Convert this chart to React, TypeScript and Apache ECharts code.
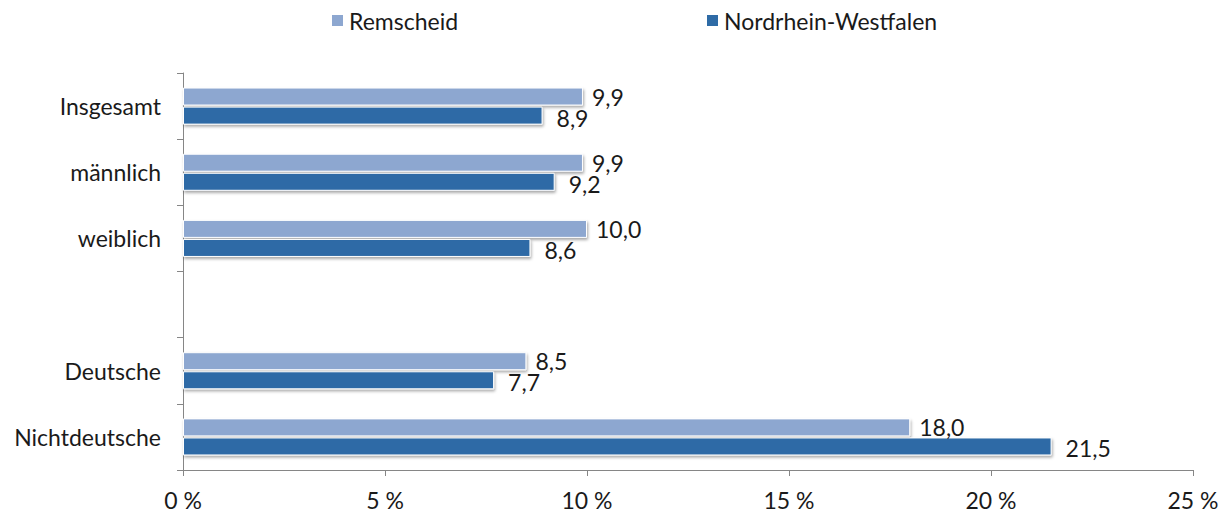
import React, { useEffect, useRef } from "react";
import * as echarts from "echarts";

const categories = ["Insgesamt", "männlich", "weiblich", "", "Deutsche", "Nichtdeutsche"];
const remscheid = [9.9, 9.9, 10.0, null, 8.5, 18.0];
const nrw = [8.9, 9.2, 8.6, null, 7.7, 21.5];
const xTicks = [0, 5, 10, 15, 20, 25];

const FONT = "Lato, 'Open Sans', sans-serif";
const FS = 23;
const fmt = (v: number) => v.toFixed(1).replace(".", ",");

export default function App() {
  const ref = useRef<HTMLDivElement>(null);
  useEffect(() => {
    const chart = echarts.init(ref.current!, null, { renderer: "svg" });
    const shadow = {
      borderColor: "#ffffff",
      borderWidth: 1,
      shadowColor: "rgba(0,0,0,0.35)",
      shadowBlur: 3,
      shadowOffsetX: 1,
      shadowOffsetY: 2,
    };
    const legendText = { fontSize: FS, color: "#1a1a1a", fontFamily: FONT };
    chart.setOption({
      animation: false,
      textStyle: { fontFamily: FONT },
      legend: [
        {
          data: ["Remscheid"],
          left: 325,
          top: 4,
          itemWidth: 13,
          itemHeight: 13,
          itemGap: 0,
          icon: "rect",
          textStyle: legendText,
        },
        {
          data: ["Nordrhein-Westfalen"],
          left: 700,
          top: 4,
          itemWidth: 13,
          itemHeight: 13,
          itemGap: 0,
          icon: "rect",
          textStyle: legendText,
        },
      ],
      grid: { left: 183, right: 34, top: 73, bottom: 48, containLabel: false },
      xAxis: {
        type: "value",
        min: xTicks[0],
        max: xTicks[xTicks.length - 1],
        interval: 5,
        axisLine: { show: true, lineStyle: { color: "#868686", width: 1 } },
        axisTick: { show: true, length: 6, lineStyle: { color: "#868686" } },
        splitLine: { show: false },
        axisLabel: {
          margin: 18,
          fontSize: FS,
          color: "#1a1a1a",
          fontFamily: FONT,
          formatter: (v: number) => `${v} %`,
        },
      },
      yAxis: {
        type: "category",
        data: categories,
        inverse: true,
        axisLine: { show: true, lineStyle: { color: "#868686", width: 1 } },
        axisTick: { show: true, length: 6, lineStyle: { color: "#868686" } },
        axisLabel: { margin: 22, fontSize: FS, color: "#1a1a1a", fontFamily: FONT },
      },
      series: [
        {
          name: "Remscheid",
          type: "bar",
          data: remscheid,
          barWidth: 18,
          barGap: "6%",
          itemStyle: { color: "#8DA7D0", ...shadow },
          label: {
            show: true,
            position: "right",
            distance: 9,
            offset: [0, 0],
            fontSize: FS,
            color: "#1a1a1a",
            fontFamily: FONT,
            formatter: (p: any) => fmt(p.value),
          },
        },
        {
          name: "Nordrhein-Westfalen",
          type: "bar",
          data: nrw,
          barWidth: 18,
          barGap: "6%",
          itemStyle: { color: "#2E6BA6", ...shadow },
          label: {
            show: true,
            position: "right",
            distance: 14,
            offset: [0, 2],
            fontSize: FS,
            color: "#1a1a1a",
            fontFamily: FONT,
            formatter: (p: any) => fmt(p.value),
          },
        },
      ],
    });
    return () => chart.dispose();
  }, []);
  return (
    <div
      ref={ref}
      style={{ position: "absolute", left: 0, top: 0, width: 1227, height: 518 }}
    />
  );
}
